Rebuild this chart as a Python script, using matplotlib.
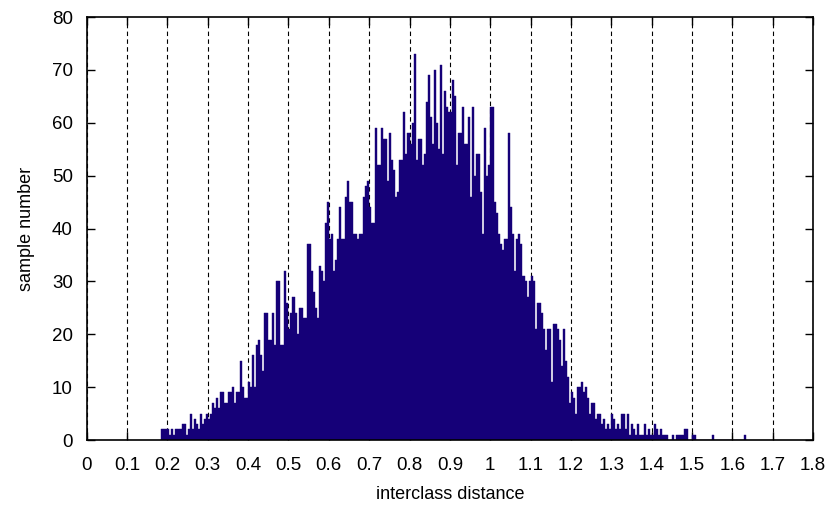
import numpy as np
import matplotlib
matplotlib.use("Agg")
import matplotlib.pyplot as plt
from matplotlib.ticker import MultipleLocator, FuncFormatter

plt.rcParams["font.family"] = ["Liberation Sans", "DejaVu Sans"]

# histogram of interclass distances, bins of width 0.005 starting at 0.185
bin_first = 0.185
bin_width = 0.005
counts = [
    # 0.185 - 0.375
    2, 2, 2, 2, 1, 2, 1, 2, 2, 2, 3, 3, 1, 2, 5, 2, 4, 3, 2, 5,
    3, 4, 5, 4, 5, 7, 6, 8, 6, 9, 9, 7, 7, 9, 9, 10, 7, 9, 9,
    # 0.38 - 0.6
    15, 10, 8, 8, 11, 10, 16, 10, 18, 19, 16, 13, 24, 24, 19, 19, 24, 18, 30, 30,
    18, 18, 32, 26, 21, 24, 27, 24, 20, 25, 25, 23, 23, 37, 37, 32, 28, 25, 23, 33,
    32, 30, 41, 45, 38,
    # 0.605 - 0.8
    39, 32, 34, 38, 44, 38, 38, 46, 49, 45, 45, 39, 39, 38, 39, 39, 46, 48, 49, 44,
    41, 41, 59, 52, 52, 59, 57, 57, 49, 58, 53, 51, 46, 47, 53, 53, 62, 54, 58, 56,
    # 0.805 - 1.0
    60, 73, 53, 57, 57, 52, 54, 64, 69, 61, 56, 70, 60, 55, 71, 54, 66, 63, 62, 62,
    68, 65, 52, 58, 58, 63, 56, 56, 61, 46, 63, 50, 54, 54, 47, 39, 59, 50, 52, 63,
    # 1.005 - 1.18
    63, 45, 43, 39, 37, 36, 38, 38, 58, 44, 39, 32, 38, 39, 37, 31, 30, 27, 30,
    31, 30, 21, 26, 26, 24, 21, 17, 21, 21, 11, 22, 22, 21, 19, 14, 21,
    # 1.185 - 1.425
    15, 12, 7, 9, 8, 5, 10, 10, 11, 9, 10, 8, 5, 7, 7, 4, 5, 5, 3, 4,
    2, 3, 2, 5, 4, 2, 3, 2, 5, 5, 2, 5, 1, 3, 2, 1, 3, 1, 1, 3,
    1, 2, 1, 1, 3, 2, 1, 2, 1,
    # tail
    1, 1, 0, 0, 1, 0, 1, 1, 1, 1, 2, 2, 0, 0, 1, 1,
    0, 0, 0, 0, 0, 0, 0, 0, 1,
    0, 0, 0, 0, 0, 0, 0, 0, 0, 0, 0, 0, 0, 0, 0, 1,
]
x_ticks = [round(0.1 * i, 1) for i in range(19)]
y_ticks = list(range(0, 81, 10))

bar_color = "#150078"

fig = plt.figure(figsize=(8.29, 5.11), dpi=100)
ax = fig.add_axes([0.1046, 0.1389, 0.8761, 0.8278])

left_edges = bin_first + bin_width * np.arange(len(counts))
ax.bar(left_edges, counts, width=bin_width, align="edge",
       color=bar_color, edgecolor=bar_color, linewidth=0.3, zorder=2)

ax.set_xlim(0, 1.8)
ax.set_ylim(0, 80)
ax.set_xticks(x_ticks)
ax.set_yticks(y_ticks)
ax.xaxis.set_major_formatter(FuncFormatter(lambda v, p: f"{v:g}"))

ax.set_axisbelow(True)
ax.grid(axis="x", color="black", linestyle=(0, (4, 3)), linewidth=0.8)
ax.grid(axis="y", visible=False)

for sp in ax.spines.values():
    sp.set_linewidth(1.2)
    sp.set_zorder(5)

ax.tick_params(axis="both", direction="in", length=6, width=1,
               labelsize=13.5, top=True, right=True)
ax.tick_params(axis="x", pad=12)
ax.tick_params(axis="y", pad=10)

ax.set_xlabel("interclass distance", fontsize=13, labelpad=9)
ax.set_ylabel("sample number", fontsize=13, labelpad=12)

fig.savefig("out.png", dpi=100)
